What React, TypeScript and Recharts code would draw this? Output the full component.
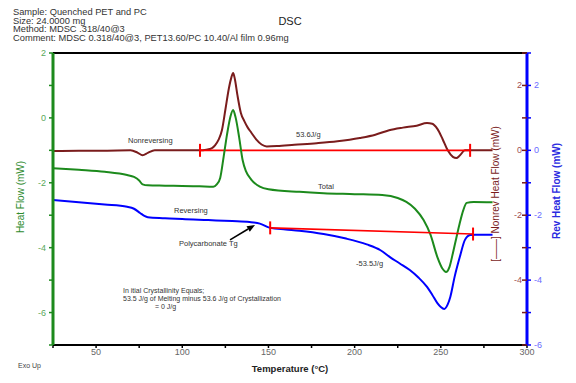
import React from 'react';
import { ComposedChart, Line, XAxis, YAxis, ReferenceLine } from 'recharts';

// Nonreversing heat flow (right "Nonrev" axis, mW)
const nonrevT = [25, 40, 55, 70, 74, 77, 80, 84, 95, 110, 114, 117, 119, 121, 123, 125, 127, 128.5, 129.5, 130.5, 132, 134, 136, 138, 140, 143, 146, 149, 155, 165, 178, 190, 203, 212, 220, 228, 236, 242, 245, 248, 251, 254, 257, 259, 261, 264, 268, 280];
const nonrevV = [-0.02, -0.01, -0.01, 0, -0.07, -0.15, -0.08, 0, 0, 0, 0.02, 0.06, 0.15, 0.32, 0.62, 1.25, 1.9, 2.25, 2.38, 2.2, 1.7, 1.15, 0.9, 0.7, 0.55, 0.33, 0.18, 0.12, 0.13, 0.17, 0.22, 0.28, 0.38, 0.48, 0.62, 0.7, 0.76, 0.84, 0.82, 0.66, 0.35, 0.0, -0.2, -0.24, -0.16, 0, 0, 0];

// Total heat flow (left axis, mW)
const totalT = [25, 40, 55, 68, 72, 75, 77, 80, 90, 100, 110, 118, 120, 122, 124, 126, 128, 129.5, 131, 133, 135, 137, 140, 145, 150, 168, 182, 200, 216, 225, 230, 235, 240, 244, 248, 251, 253, 255, 257, 259, 261, 263, 265, 269, 280];
const totalV = [-1.55, -1.6, -1.66, -1.76, -1.82, -1.93, -2.05, -2.08, -2.09, -2.1, -2.11, -2.12, -2.05, -1.85, -1.2, -0.5, 0.05, 0.24, 0.0, -0.6, -1.3, -1.65, -1.9, -2.12, -2.2, -2.28, -2.32, -2.35, -2.38, -2.47, -2.59, -2.8, -3.15, -3.6, -4.29, -4.65, -4.75, -4.6, -4.17, -3.7, -3.24, -2.85, -2.62, -2.59, -2.6];

// Reversing heat flow (right "Rev" axis, mW)
const revT = [25, 40, 55, 68, 72, 75.5, 78, 80, 90, 100, 115, 129, 139, 145, 151, 160, 168, 182, 195, 207, 215, 220.5, 226, 232, 237, 242, 245, 248, 250, 252, 254, 255.5, 258, 261, 264, 267, 270, 280];
const revV = [-1.53, -1.6, -1.67, -1.74, -1.8, -1.93, -2.02, -2.06, -2.09, -2.12, -2.15, -2.18, -2.21, -2.26, -2.39, -2.44, -2.48, -2.58, -2.72, -2.9, -3.08, -3.29, -3.48, -3.69, -3.92, -4.21, -4.45, -4.71, -4.83, -4.89, -4.75, -4.52, -3.9, -3.29, -2.76, -2.61, -2.6, -2.6];

// Integration baselines
const nonrevBaseT = [110.3, 267];
const nonrevBaseV = [0, 0];
const revBaseT = [151, 268.7];
const revBaseV = [-2.39, -2.58];

// Arrow for "Polycarbonate Tg"
const arrowT = [127.7, 142.2];
const arrowV = [-2.76, -2.3];

const xTicks = [25, 50, 75, 100, 125, 150, 175, 200, 225, 250, 275, 300];
const leftTicks = [-7, -6, -5, -4, -3, -2, -1, 0, 1, 2];
const rightTicks = [-6, -5, -4, -3, -2, -1, 0, 1, 2, 3];

const headerLines = [
  'Sample: Quenched PET and PC',
  'Size:  24.0000 mg',
  'Method: MDSC .318/40@3',
  'Comment: MDSC 0.318/40@3, PET13.60/PC 10.40/Al film 0.96mg',
];

const FONT = '"Liberation Sans", Arial, Helvetica, sans-serif';
const MAROON = '#7a1c1c';
const GREEN = '#1c8a1c';
const BLUE = '#0000ff';
const RED = '#ff0000';

const toData = (t: number[], v: number[]) => t.map((x, i) => ({ t: x, v: v[i] }));
const seg = (t: number[], v: number[]) => t.map((x, i) => ({ x, y: v[i] }));

const RevTick = (props: any) => {
  const { x, y, payload } = props;
  const v = payload.value;
  const axisX = x - 7;
  const even = v % 2 === 0;
  return (
    <g>
      <line x1={axisX - 5} y1={y} x2={axisX} y2={y} stroke={MAROON} strokeWidth={1.5} />
      {even && (
        <text x={x} y={y} dy={3} fill="#6a6aff" fontSize={9} fontFamily={FONT}>
          {v}
        </text>
      )}
      {even && v > -6 && (
        <text x={axisX - 5} y={y} dy={3} textAnchor="end" fill="#a05050" fontSize={9} fontFamily={FONT}>
          {v}
        </text>
      )}
    </g>
  );
};

const Arrow = (p: any) => {
  const { x1, y1, x2, y2 } = p;
  const ang = Math.atan2(y2 - y1, x2 - x1);
  const L = 8;
  const W = 3.2;
  const bx = x2 - L * Math.cos(ang);
  const by = y2 - L * Math.sin(ang);
  const pts = `${x2},${y2} ${bx - W * Math.sin(ang)},${by + W * Math.cos(ang)} ${bx + W * Math.sin(ang)},${by - W * Math.cos(ang)}`;
  return (
    <g>
      <line x1={x1} y1={y1} x2={bx} y2={by} stroke="#000" strokeWidth={1.6} />
      <polygon points={pts} fill="#000" />
    </g>
  );
};

const EndTick = (p: any) => {
  const { x1, y1, x2, y2 } = p;
  return <line x1={x1} y1={y1} x2={x2} y2={y2} stroke={RED} strokeWidth={2} />;
};

export default function App() {
  const ann = { fontFamily: FONT, fill: '#333', fontSize: 7.5 } as const;
  return (
    <div style={{ position: 'absolute', left: 0, top: 0, width: 576, height: 383, background: '#fff' }}>
      <ComposedChart width={576} height={383} margin={{ top: 53, right: 0, bottom: 0, left: 0 }}>
        <XAxis
          dataKey="t"
          type="number"
          domain={[25, 300]}
          ticks={xTicks}
          tickFormatter={(v: number) => (v % 50 === 0 ? String(v) : '')}
          height={38}
          axisLine={{ stroke: '#000', strokeWidth: 2 }}
          tickLine={{ stroke: '#000', strokeWidth: 1.5 }}
          tickSize={3}
          tickMargin={1}
          tick={{ fill: '#666', fontSize: 9, fontFamily: FONT }}
          allowDataOverflow
        />
        <YAxis
          yAxisId="left"
          orientation="left"
          domain={[-7, 2]}
          ticks={leftTicks}
          tickFormatter={(v: number) => (v % 2 === 0 ? String(v) : '')}
          width={53}
          axisLine={{ stroke: GREEN, strokeWidth: 3 }}
          tickLine={{ stroke: GREEN, strokeWidth: 1.5 }}
          tickSize={4}
          tickMargin={3}
          tick={{ fill: '#5aa85a', fontSize: 9, fontFamily: FONT }}
          allowDataOverflow
        />
        <YAxis yAxisId="nonrev" orientation="right" domain={[-6, 3]} hide width={0} allowDataOverflow />
        <YAxis
          yAxisId="rev"
          orientation="right"
          domain={[-6, 3]}
          ticks={rightTicks}
          width={49}
          axisLine={{ stroke: BLUE, strokeWidth: 3 }}
          tickLine={{ stroke: BLUE, strokeWidth: 1.5 }}
          tickSize={4}
          tickMargin={3}
          tick={<RevTick />}
          allowDataOverflow
        />

        <ReferenceLine yAxisId="left" y={2} stroke="#000" strokeWidth={2} />

        <Line
          yAxisId="nonrev"
          data={toData(nonrevT, nonrevV)}
          dataKey="v"
          type="monotone"
          stroke={MAROON}
          strokeWidth={2}
          dot={false}
          isAnimationActive={false}
        />
        <ReferenceLine yAxisId="nonrev" segment={seg(nonrevBaseT, nonrevBaseV)} stroke={RED} strokeWidth={1.6} />
        <ReferenceLine yAxisId="nonrev" segment={[{ x: nonrevBaseT[0], y: nonrevBaseV[0] - 0.2 }, { x: nonrevBaseT[0], y: nonrevBaseV[0] + 0.2 }]} shape={<EndTick />} />
        <ReferenceLine yAxisId="nonrev" segment={[{ x: nonrevBaseT[1], y: nonrevBaseV[1] - 0.2 }, { x: nonrevBaseT[1], y: nonrevBaseV[1] + 0.2 }]} shape={<EndTick />} />

        <Line
          yAxisId="left"
          data={toData(totalT, totalV)}
          dataKey="v"
          type="monotone"
          stroke={GREEN}
          strokeWidth={2}
          dot={false}
          isAnimationActive={false}
        />
        <Line
          yAxisId="rev"
          data={toData(revT, revV)}
          dataKey="v"
          type="monotone"
          stroke={BLUE}
          strokeWidth={2}
          dot={false}
          isAnimationActive={false}
        />
        <ReferenceLine yAxisId="rev" segment={seg(revBaseT, revBaseV)} stroke={RED} strokeWidth={1.6} />
        <ReferenceLine yAxisId="rev" segment={[{ x: revBaseT[0], y: revBaseV[0] - 0.2 }, { x: revBaseT[0], y: revBaseV[0] + 0.2 }]} shape={<EndTick />} />
        <ReferenceLine yAxisId="rev" segment={[{ x: revBaseT[1], y: revBaseV[1] - 0.2 }, { x: revBaseT[1], y: revBaseV[1] + 0.2 }]} shape={<EndTick />} />
        <ReferenceLine yAxisId="rev" segment={seg(arrowT, arrowV)} shape={<Arrow />} />
      </ComposedChart>

      <svg width={576} height={383} style={{ position: 'absolute', left: 0, top: 0, pointerEvents: 'none' }}>
        {headerLines.map((s, i) => (
          <text key={i} x={13} y={15 + i * 8.6} fontSize={9.3} fontFamily={FONT} fill="#333">
            {s}
          </text>
        ))}
        <text x={290} y={25} textAnchor="middle" fontSize={11} fontFamily={FONT} fill="#222">
          DSC
        </text>
        <text transform="translate(24,197) rotate(-90)" textAnchor="middle" fontSize={10} fontFamily={FONT} fill="#2e8b2e">
          Heat Flow (mW)
        </text>
        <text transform="translate(499,194) rotate(-90)" textAnchor="middle" fontSize={10} fontFamily={FONT} fill={MAROON}>
          [——] Nonrev Heat Flow (mW)
        </text>
        <text transform="translate(560,191) rotate(-90)" textAnchor="middle" fontSize={10} fontWeight="bold" fontFamily={FONT} fill="#2a2ae0">
          Rev Heat Flow (mW)
        </text>
        <text x={290} y={372} textAnchor="middle" fontSize={9.5} fontWeight="bold" fontFamily={FONT} fill="#222">
          Temperature (°C)
        </text>
        <text x={18} y={368} fontSize={7} fontFamily={FONT} fill="#444">
          Exo Up
        </text>

        <text x={128} y={143} {...ann}>Nonreversing</text>
        <text x={296} y={137} {...ann}>53.6J/g</text>
        <text x={318} y={189} {...ann}>Total</text>
        <text x={174} y={213} {...ann}>Reversing</text>
        <text x={179} y={246} {...ann}>Polycarbonate Tg</text>
        <text x={356} y={266} {...ann}>-53.5J/g</text>
        <text x={123} y={293} {...ann} fontSize={7}>In itial Crystallinity Equals;</text>
        <text x={123} y={301} {...ann} fontSize={7}>53.5 J/g of Melting minus 53.6 J/g of Crystallization</text>
        <text x={155} y={309} {...ann} fontSize={7}>= 0 J/g</text>
      </svg>
    </div>
  );
}
